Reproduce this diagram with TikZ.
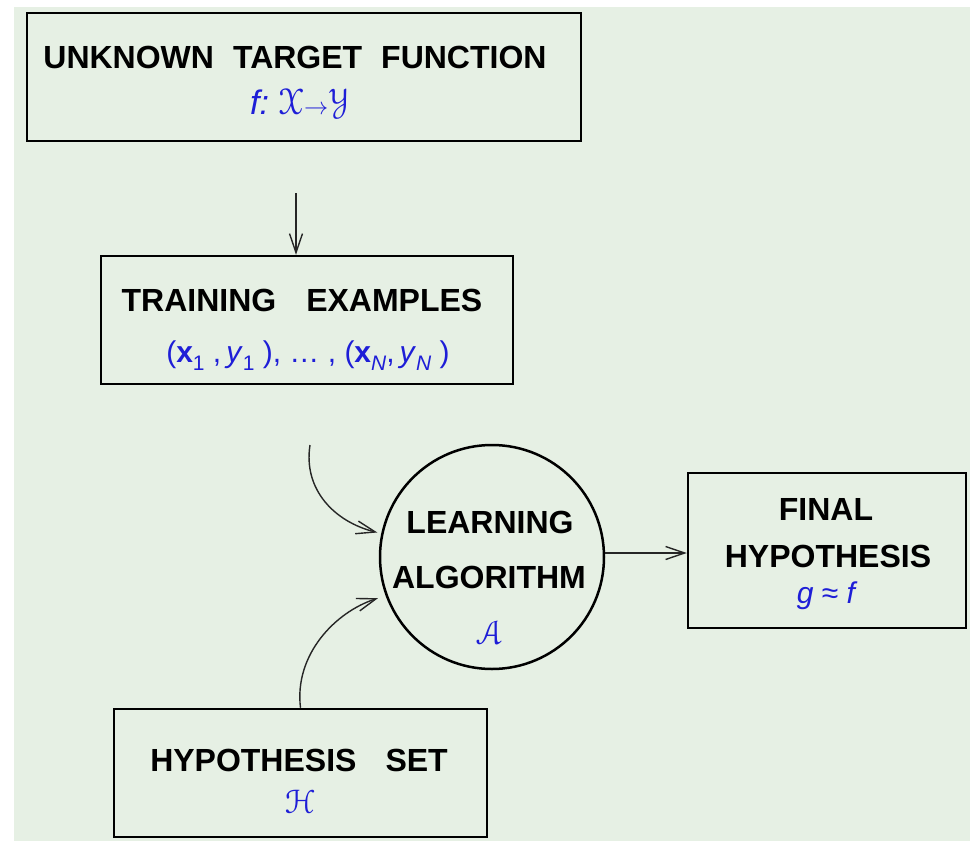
\documentclass[tikz,border=0pt]{standalone}
\usepackage{fontspec}
\setmainfont{Liberation Sans}
\usepackage{amsmath}
\usepackage{eucal}
\usepackage{graphicx}
\usetikzlibrary{arrows.meta}
\definecolor{bg}{RGB}{230,240,228}
\definecolor{txtblue}{RGB}{30,30,215}
\newcommand\sbs[1]{\raisebox{-8pt}{\fontsize{21}{24}\selectfont #1}}
\newcommand\bigcal[1]{\scalebox{1.3}{$\mathcal{#1}$}}
\begin{document}
\begin{tikzpicture}[x=1pt,y=-1pt,
  box/.style={draw=black,line width=2.5pt,rectangle,inner sep=0pt},
  head/.style={font=\fontsize{32}{38}\selectfont\bfseries,inner sep=0pt,anchor=base},
  mathlbl/.style={text=txtblue,inner sep=0pt,anchor=base},
  conn/.style={line width=1.4pt,draw=black!85,-{Straight Barb[length=19pt,width=13pt]}}
]
\fill[white] (0,0) rectangle (970,841);
\fill[bg] (14,7) rectangle (970,841);
\useasboundingbox (0,0) rectangle (970,841);

% boxes
\node[box,minimum width=554pt,minimum height=128pt] (tf) at (304,77) {};
\node[box,minimum width=412pt,minimum height=128pt] (te) at (307,320) {};
\node[box,minimum width=278pt,minimum height=155pt] (fin) at (827,550.5) {};
\node[box,minimum width=373pt,minimum height=128pt] (hs) at (300.5,773) {};
\node[draw=black,circle,line width=2.5pt,minimum size=224pt,inner sep=0pt] (alg) at (492,557) {};

% texts
\node[head] (tft) at (295,68) {UNKNOWN\hspace{19pt}TARGET\hspace{19pt}FUNCTION};
\node[mathlbl] (tff) at (300,114) {\fontsize{34}{38}\selectfont\textit{f:}\hspace{9pt}\fontsize{26}{30}\selectfont\scalebox{1.4}{$\mathcal{X}{\scriptstyle\rightarrow}\mathcal{Y}$}};
\node[head] (tet) at (302,311.5) {TRAINING\hspace{30pt}EXAMPLES};
\node[mathlbl,font=\fontsize{30}{36}\selectfont] (tex) at (308,362) {(\textbf{x}\sbs{1} ,\,\textit{y}\sbs{1} ), … , (\textbf{x}\sbs{\textit{N}},\,\textit{y}\sbs{\textit{N}} )};
\node[head] (alg1) at (490,533.5) {LEARNING};
\node[head] (alg2) at (489,588.5) {ALGORITHM};
\node[mathlbl,font=\fontsize{26}{30}\selectfont] (alg3) at (490,644) {\bigcal{A}};
\node[head] (fin1) at (826,520.5) {FINAL};
\node[head] (fin2) at (828,567.5) {HYPOTHESIS};
\node[mathlbl,font=\fontsize{30}{36}\selectfont\itshape] (fin3) at (826,603) {g {\upshape ≈} f};
\node[head] (hs1) at (299,771.5) {HYPOTHESIS\hspace{29pt}SET};
\node[mathlbl,font=\fontsize{26}{30}\selectfont] (hs2) at (300,813) {\bigcal{H}};

% connectors
\coordinate (s1) at (296,193);
\draw[conn] (s1) -- (s1 |- te.north);
\coordinate (s2) at (310,445);
\draw[conn,shorten >=4pt] (s2) .. controls (303,490) and (335,522) .. (alg.168);
\draw[conn,shorten >=8pt] (hs.north) .. controls (294,655) and (335,612) .. (alg.200);
\draw[conn] ([yshift=4pt]alg.east) -- ([yshift=4pt]alg.east -| fin.west);
\end{tikzpicture}
\end{document}
